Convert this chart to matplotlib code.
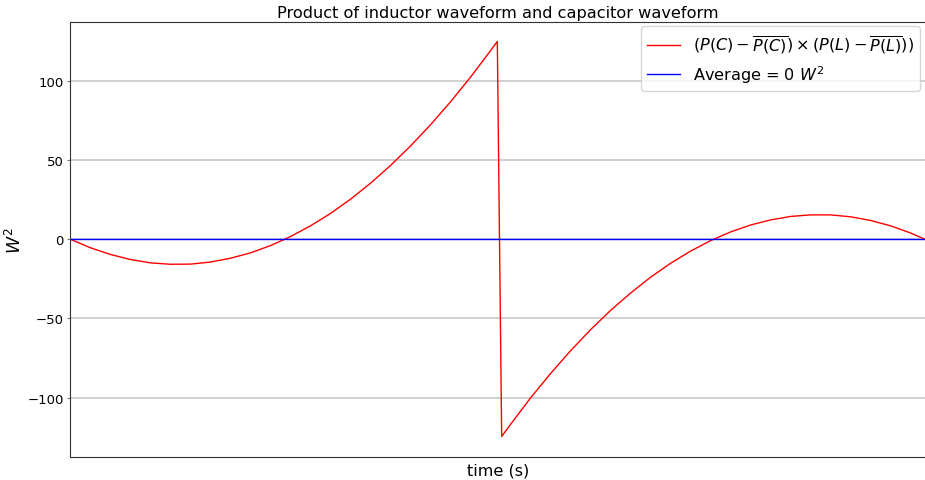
#!/usr/bin/env python3
"""Product of inductor waveform and capacitor waveform"""

import matplotlib
matplotlib.use('Agg')
import matplotlib.pyplot as plt

# Values (time as fraction of the period)
time_rise = [0.0, 0.0234, 0.0468, 0.0702, 0.0936, 0.1170, 0.1404, 0.1638,
             0.1872, 0.2106, 0.2341, 0.2575, 0.2809, 0.3043, 0.3277, 0.3511,
             0.3745, 0.3979, 0.4213, 0.4447, 0.4681, 0.4915, 0.4995]
prod_rise = [0.0, -5.4, -9.6, -12.8, -14.9, -15.8, -15.7, -14.4,
             -12.0, -8.6, -4.0, 1.7, 8.5, 16.3, 25.3, 35.4,
             46.6, 58.9, 72.3, 86.8, 102.4, 119.1, 125.0]
time_fall = [0.5046, 0.5149, 0.5383, 0.5617, 0.5851, 0.6085, 0.6319, 0.6554,
             0.6788, 0.7022, 0.7256, 0.7490, 0.7724, 0.7958, 0.8192, 0.8426,
             0.8660, 0.8894, 0.9128, 0.9362, 0.9596, 0.9830, 1.0]
prod_fall = [-124.6, -117.0, -100.3, -84.9, -70.5, -57.2, -45.0, -34.0,
             -24.0, -15.2, -7.5, -0.9, 4.6, 9.0, 12.2, 14.4,
             15.4, 15.4, 14.2, 11.9, 8.5, 4.0, 0.0]
average = 0

time = time_rise + time_fall
product = prod_rise + prod_fall

fig = plt.figure(figsize=(9.25, 4.81), dpi=100)
ax = fig.add_axes([0.0762, 0.048, 0.9238, 0.905])

ax.plot(time, product, color='red', linewidth=1,
        label=r'$(P(C) - \overline{P(C)}) \times (P(L) - \overline{P(L)}))$')
ax.plot([time[0], time[-1]], [average, average], color='blue', linewidth=1,
        label=r'Average = %d $W^2$' % average)

ax.set_xlim(0, 1)
ax.set_ylim(-137.5, 137.5)
ax.set_xticks([])
ax.set_yticks([-100, -50, 0, 50, 100])
ax.tick_params(axis='y', labelsize=9.5, length=2.5, pad=2.5, color='#777777')
ax.yaxis.grid(True, color='#c8c8c8', linewidth=1.2)
ax.set_axisbelow(True)
ax.spines['right'].set_visible(False)
for side in ('left', 'bottom', 'top'):
    ax.spines[side].set_color('#333333')

ax.set_title('Product of inductor waveform and capacitor waveform',
             fontsize=11.6, pad=3)
ax.set_xlabel('time (s)', fontsize=11.6, labelpad=4)
ax.set_ylabel(r'$W^2$', fontsize=12.5)
ax.yaxis.set_label_coords(-0.053, 0.5)
ax.legend(loc='upper right', fontsize=11.6, handlelength=2.0,
          borderaxespad=0.3)

fig.savefig('out.png', dpi=100)
